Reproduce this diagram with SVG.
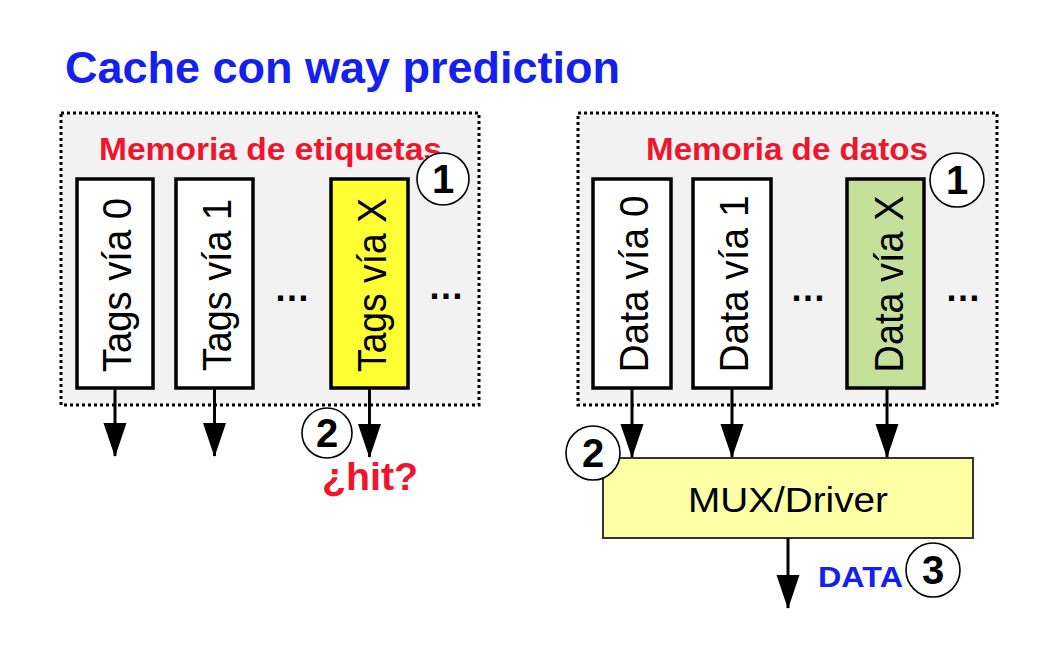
<svg xmlns="http://www.w3.org/2000/svg" width="1048" height="658" viewBox="0 0 1048 658">
<defs>
<style>
.title{font-family:"Liberation Sans",Arial,sans-serif;font-weight:bold;font-size:44px;fill:#1420F0}
.mem{font-family:"Liberation Sans",Arial,sans-serif;font-weight:bold;font-size:31px;fill:#F0142D}
.way{font-family:"Liberation Sans",Arial,sans-serif;font-size:41px;fill:#000}
.dots{font-family:"Liberation Sans",Arial,sans-serif;font-weight:bold;font-size:36px;fill:#000}
.num{font-family:"Liberation Sans",Arial,sans-serif;font-weight:bold;font-size:40px;fill:#000}
.frame{fill:#F2F2F2;stroke:#000;stroke-width:3;stroke-dasharray:3 3}
.box{stroke:#000;stroke-width:3.5}
.circ{fill:#fff;stroke:#000;stroke-width:1.6}
.wire{stroke:#000;stroke-width:3;fill:none}
</style>
<marker id="ah" markerUnits="userSpaceOnUse" markerWidth="34" markerHeight="24" refX="33" refY="11.5" orient="auto" viewBox="0 0 34 24">
<path d="M0,0 L34,11.5 L0,23 z" fill="#000"/>
</marker>
</defs>
<rect width="1048" height="658" fill="#fff"/>
<text class="title" x="65" y="83" textLength="555" lengthAdjust="spacingAndGlyphs">Cache con way prediction</text>

<g id="tag-memory">
<rect class="frame" x="61" y="113" width="418" height="292"/>
<text class="mem" x="99" y="160" textLength="343" lengthAdjust="spacingAndGlyphs">Memoria de etiquetas</text>
</g>
<g id="data-memory">
<rect class="frame" x="578" y="113" width="419" height="292"/>
<text class="mem" x="646" y="160" textLength="282" lengthAdjust="spacingAndGlyphs">Memoria de datos</text>
</g>

<g id="tags0">
<rect class="box" x="77" y="179" width="76" height="209" fill="#fff"/>
<text class="way" transform="translate(131,285) rotate(-90)" text-anchor="middle" textLength="174" lengthAdjust="spacingAndGlyphs">Tags vía 0</text>
</g>
<g id="tags1">
<rect class="box" x="176" y="179" width="77" height="209" fill="#fff"/>
<text class="way" transform="translate(230.5,285) rotate(-90)" text-anchor="middle" textLength="172" lengthAdjust="spacingAndGlyphs">Tags vía 1</text>
</g>
<text class="dots" x="292" y="301" text-anchor="middle">…</text>
<g id="tagsX">
<rect class="box" x="331" y="179" width="77" height="209" fill="#FFFF33"/>
<text class="way" transform="translate(385.5,285) rotate(-90)" text-anchor="middle" textLength="174" lengthAdjust="spacingAndGlyphs">Tags vía X</text>
</g>
<text class="dots" x="446" y="299" text-anchor="middle">…</text>

<g id="data0">
<rect class="box" x="593" y="179" width="78" height="209" fill="#fff"/>
<text class="way" transform="translate(648,284) rotate(-90)" text-anchor="middle" textLength="177" lengthAdjust="spacingAndGlyphs">Data vía 0</text>
</g>
<g id="data1">
<rect class="box" x="693" y="179" width="78" height="209" fill="#fff"/>
<text class="way" transform="translate(748,284) rotate(-90)" text-anchor="middle" textLength="177" lengthAdjust="spacingAndGlyphs">Data vía 1</text>
</g>
<text class="dots" x="808" y="301" text-anchor="middle">…</text>
<g id="dataX">
<rect class="box" x="847" y="179" width="77" height="209" fill="#C4E09B"/>
<text class="way" transform="translate(902.5,284) rotate(-90)" text-anchor="middle" textLength="177" lengthAdjust="spacingAndGlyphs">Data vía X</text>
</g>
<text class="dots" x="963" y="301" text-anchor="middle">…</text>

<g id="mux">
<rect x="603" y="458" width="370" height="80" fill="#FFFFA6" stroke="#333" stroke-width="2"/>
<text x="788" y="512" text-anchor="middle" font-family="Liberation Sans, Arial, sans-serif" font-size="35" textLength="200" lengthAdjust="spacingAndGlyphs">MUX/Driver</text>
</g>

<g id="connectors">
<line class="wire" x1="115" y1="388" x2="115" y2="456" marker-end="url(#ah)"/>
<line class="wire" x1="214.5" y1="388" x2="214.5" y2="456" marker-end="url(#ah)"/>
<line class="wire" x1="369.5" y1="388" x2="369.5" y2="457" marker-end="url(#ah)"/>
<line class="wire" x1="632" y1="388" x2="632" y2="457" marker-end="url(#ah)"/>
<line class="wire" x1="732" y1="388" x2="732" y2="457" marker-end="url(#ah)"/>
<line class="wire" x1="887" y1="388" x2="887" y2="457" marker-end="url(#ah)"/>
<line class="wire" x1="788" y1="538" x2="788" y2="608" marker-end="url(#ah)"/>
</g>

<g id="step1-tags">
<circle class="circ" cx="443" cy="179" r="26"/>
<text class="num" x="443" y="193" text-anchor="middle">1</text>
</g>
<g id="step1-data">
<circle class="circ" cx="957" cy="180" r="27"/>
<text class="num" x="957" y="194" text-anchor="middle">1</text>
</g>
<g id="step2-tags">
<circle class="circ" cx="327" cy="433" r="25"/>
<text class="num" x="327" y="447" text-anchor="middle">2</text>
</g>
<g id="step2-data">
<circle class="circ" cx="593" cy="453" r="27"/>
<text class="num" x="593" y="467" text-anchor="middle">2</text>
</g>
<g id="step3">
<circle class="circ" cx="933" cy="570" r="27"/>
<text class="num" x="933" y="584" text-anchor="middle">3</text>
</g>

<text x="322" y="490" font-family="Liberation Sans, Arial, sans-serif" font-weight="bold" font-size="39" fill="#F0142D" textLength="96" lengthAdjust="spacingAndGlyphs">¿hit?</text>
<text x="818" y="587" font-family="Liberation Sans, Arial, sans-serif" font-weight="bold" font-size="29" fill="#1420F0" textLength="85" lengthAdjust="spacingAndGlyphs">DATA</text>
</svg>
